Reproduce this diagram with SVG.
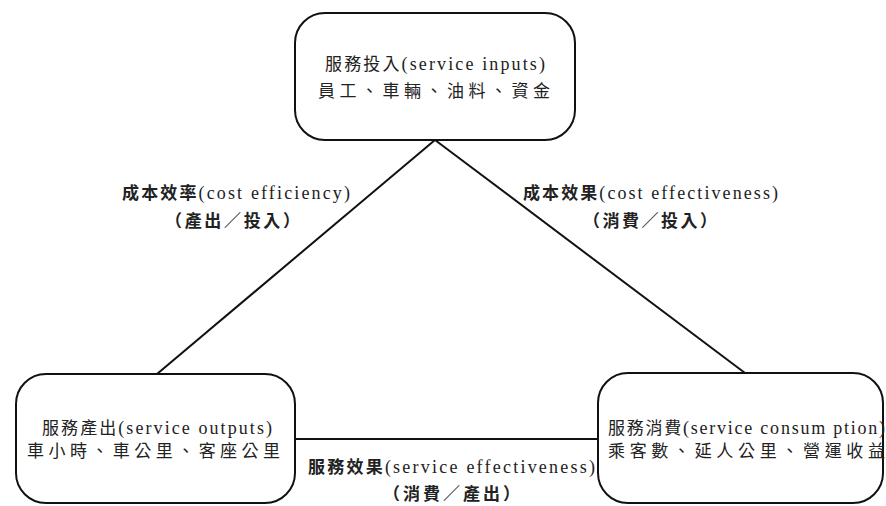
<svg xmlns="http://www.w3.org/2000/svg" width="886" height="506" viewBox="0 0 886 506">
<style>
.box{fill:#fff;stroke:#111;stroke-width:2}
.ln{stroke:#111;stroke-width:2;fill:none}
text{font-family:"Liberation Serif","Noto Sans CJK TC",serif;font-size:17px;fill:#222}
.b{font-weight:bold}
.l{font-size:18px}
</style>
<rect width="886" height="506" fill="#fff"/>
<g id="connectors">
<line class="ln" x1="435" y1="140" x2="157" y2="374"/>
<line class="ln" x1="435" y1="140" x2="745" y2="373"/>
<line class="ln" x1="295" y1="439" x2="598" y2="439"/>
</g>
<g id="inputs">
<rect class="box" x="295" y="13" width="280" height="127" rx="30"/>
<text x="325" y="70" textLength="220" lengthAdjust="spacing">服務投入<tspan class="l">(service inputs)</tspan></text>
<text x="318" y="97" textLength="232" lengthAdjust="spacing">員工、車輛、油料、資金</text>
</g>
<g id="outputs">
<rect class="box" x="16" y="374" width="279" height="129" rx="30"/>
<text x="42" y="434" textLength="230" lengthAdjust="spacing">服務產出<tspan class="l">(service outputs)</tspan></text>
<text x="27" y="457" textLength="253" lengthAdjust="spacing">車小時、車公里、客座公里</text>
</g>
<g id="consumption">
<rect class="box" x="598" y="373" width="285" height="130" rx="30"/>
<text x="608" y="434" textLength="277" lengthAdjust="spacing">服務消費<tspan class="l">(service consum ption)</tspan></text>
<text x="608" y="457" textLength="277" lengthAdjust="spacing">乘客數、延人公里、營運收益</text>
</g>
<g id="label-efficiency">
<text x="122" y="199" textLength="228" lengthAdjust="spacing"><tspan class="b">成本效率</tspan><tspan class="l">(cost efficiency)</tspan></text>
<text x="165" y="227" textLength="135" lengthAdjust="spacing" class="b">（產出／投入）</text>
</g>
<g id="label-cost-effectiveness">
<text x="523" y="199" textLength="255" lengthAdjust="spacing"><tspan class="b">成本效果</tspan><tspan class="l">(cost effectiveness)</tspan></text>
<text x="583" y="227" textLength="134" lengthAdjust="spacing" class="b">（消費／投入）</text>
</g>
<g id="label-service-effectiveness">
<text x="308" y="473" textLength="287" lengthAdjust="spacing"><tspan class="b">服務效果</tspan><tspan class="l">(service effectiveness)</tspan></text>
<text x="383" y="500" textLength="137" lengthAdjust="spacing" class="b">（消費／產出）</text>
</g>
</svg>
